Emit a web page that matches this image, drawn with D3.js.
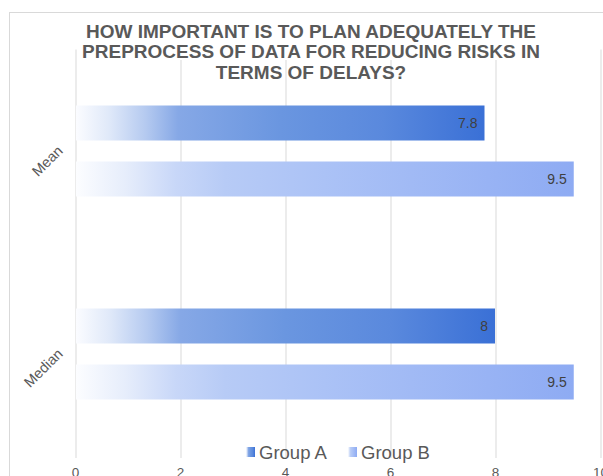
<!DOCTYPE html>
<html>
<head>
<meta charset="utf-8">
<script src="https://cdn.jsdelivr.net/npm/d3@7"></script>
<style>
  html, body { margin: 0; padding: 0; background: #fff; }
  svg { display: block; font-family: "Liberation Sans", Arial, sans-serif; }
</style>
</head>
<body>
<svg id="chart" width="603" height="476"></svg>
<script>
// ---- data ----
const categories = ["Mean", "Median"];
const seriesNames = ["Group A", "Group B"];
const groupA = [7.8, 8];
const groupB = [9.5, 9.5];
const xTicks = [0, 2, 4, 6, 8, 10];
const titleLines = [
  "HOW IMPORTANT IS TO PLAN ADEQUATELY THE",
  "PREPROCESS OF DATA FOR REDUCING RISKS IN",
  "TERMS OF DELAYS?"
];

const rows = [];
categories.forEach((c, i) => {
  rows.push({ cat: c, series: "Group A", value: groupA[i] });
  rows.push({ cat: c, series: "Group B", value: groupB[i] });
});

const svg = d3.select("#chart");
const W = 603, H = 476;

svg.append("rect").attr("width", W).attr("height", H).attr("fill", "#fff");

// gradients
const defs = svg.append("defs");
const gradStops = {
  "Group A": [
    [0, "#fbfcff"], [0.08, "#e0e9f9"], [0.17, "#b5caf0"], [0.25, "#86a8e6"],
    [0.5, "#6a96e0"], [0.75, "#5a89dd"], [1, "#3a70d6"]
  ],
  "Group B": [
    [0, "#fcfdff"], [0.1, "#e6edfb"], [0.2, "#c8d7f8"], [0.3, "#b7cbf6"],
    [0.5, "#abc2f6"], [1, "#8eabf3"]
  ]
};
const gradId = s => "grad-" + s.replace(/\s/g, "");
seriesNames.forEach(s => {
  const g = defs.append("linearGradient").attr("id", gradId(s))
    .attr("x1", 0).attr("x2", 1).attr("y1", 0).attr("y2", 0);
  gradStops[s].forEach(([o, c]) => g.append("stop").attr("offset", o).attr("stop-color", c));
});

// chart border
svg.append("rect")
  .attr("x", 9.5).attr("y", 12.5).attr("width", 620).attr("height", 500)
  .attr("fill", "none").attr("stroke", "#d9d9d9").attr("stroke-width", 1);

// scales
const x = d3.scaleLinear().domain([0, 10]).range([75, 600]);
const y0 = d3.scaleBand().domain(categories).range([49.5, 455.5]).padding(0);
const y1 = d3.scaleBand().domain(seriesNames).range([56, 147]).paddingInner(0.375).paddingOuter(0);

// gridlines via axis
const gridAxis = d3.axisBottom(x).tickValues(xTicks).tickSize(-(458 - 49.5)).tickFormat("");
const gg = svg.append("g").attr("transform", "translate(0,458)").call(gridAxis);
gg.select(".domain").remove();
gg.selectAll(".tick line").attr("stroke", "#d9d9d9").attr("stroke-width", 1)
  .attr("transform", "translate(0.5,0)");

// tick labels
const tickAxis = d3.axisBottom(x).tickValues(xTicks).tickSize(0).tickPadding(0);
const tg = svg.append("g").attr("transform", "translate(0,467)").call(tickAxis);
tg.select(".domain").remove();
tg.selectAll("text").attr("fill", "#595959").attr("font-size", "13.5px")
  .attr("font-family", "Liberation Sans, Arial, sans-serif").attr("dy", "0.71em");

// title background + title
svg.append("rect").attr("x", 80).attr("y", 14).attr("width", 465).attr("height", 46).attr("fill", "#fff");
svg.append("g").selectAll("text").data(titleLines).join("text")
  .attr("x", 311).attr("y", (d, i) => 31 + i * 20.5)
  .attr("dy", "0.36em")
  .attr("text-anchor", "middle")
  .attr("font-size", "19px").attr("font-weight", "bold")
  .attr("fill", "#595959")
  .text(d => d);

// bars
const barG = svg.append("g");
barG.selectAll("rect").data(rows).join("rect")
  .attr("x", x(0) + 1)
  .attr("y", d => y0(d.cat) + y1(d.series))
  .attr("width", d => x(d.value) - x(0) - 1)
  .attr("height", y1.bandwidth())
  .attr("fill", d => `url(#${gradId(d.series)})`);

// data labels
barG.selectAll("text").data(rows).join("text")
  .attr("x", d => x(d.value) - 7)
  .attr("y", d => y0(d.cat) + y1(d.series) + y1.bandwidth() / 2)
  .attr("dy", "0.36em")
  .attr("text-anchor", "end")
  .attr("font-size", "14px")
  .attr("fill", "#404040")
  .text(d => d.value);

// category labels (rotated)
svg.append("g").selectAll("text").data(categories).join("text")
  .attr("transform", d => `translate(60,${y0(d) + y0.bandwidth() / 2 - 3}) rotate(-45)`)
  .attr("text-anchor", "end")
  .attr("dy", "0.36em")
  .attr("font-size", "14.5px")
  .attr("fill", "#595959")
  .text(d => d);

// legend
const legendX = { "Group A": 246, "Group B": 348 };
const lg = svg.append("g");
seriesNames.forEach(s => {
  lg.append("rect").attr("x", legendX[s]).attr("y", 447).attr("width", 9).attr("height", 10)
    .attr("fill", `url(#${gradId(s)})`);
  lg.append("text").attr("x", legendX[s] + 13).attr("y", 452).attr("dy", "0.36em")
    .attr("font-size", "18.5px").attr("fill", "#595959").text(s);
});
</script>
</body>
</html>
